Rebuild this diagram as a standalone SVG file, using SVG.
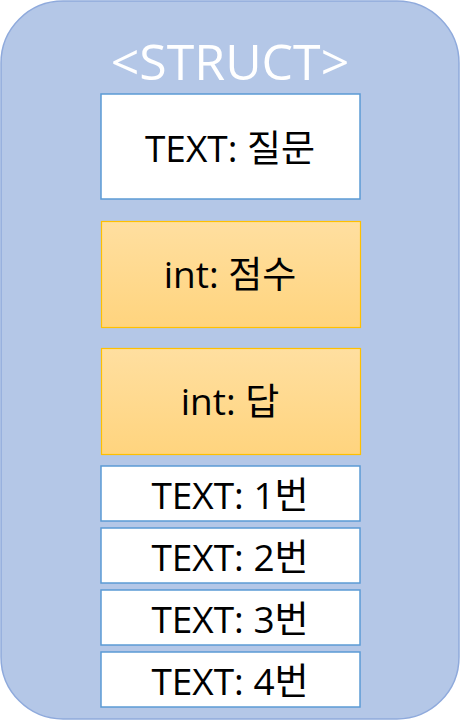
<svg xmlns="http://www.w3.org/2000/svg" width="460" height="725" viewBox="0 0 460 725">
<defs>
<linearGradient id="og" x1="0" y1="0" x2="0" y2="1">
<stop offset="0" stop-color="#FFDFA0"/>
<stop offset="1" stop-color="#FFD47E"/>
</linearGradient>
<style>
.w{fill:#FFFFFF;stroke:#5B9BD5;stroke-width:1.5}
.o{fill:url(#og);stroke:#FFC000;stroke-width:1.2}
.t{font-family:"Open Sans","Noto Sans CJK KR",sans-serif;font-size:37px;fill:#000;text-anchor:middle}
.h{font-family:"Open Sans","Noto Sans CJK KR",sans-serif;font-size:50px;fill:#FFFFFF;text-anchor:middle}
</style>
</defs>
<g id="struct">
<rect x="1" y="1" width="458" height="718" rx="62" ry="62" fill="#B4C7E7" stroke="#8FAADC" stroke-width="1.5"/>
<text class="h" x="230" y="80">&lt;STRUCT&gt;</text>
</g>
<g id="n1"><rect class="w" x="101" y="94" width="259" height="105"/><text class="t" x="230" y="162">TEXT: 질문</text></g>
<g id="n2"><rect class="o" x="101.5" y="221.5" width="259" height="106"/><text class="t" x="230" y="288">int: 점수</text></g>
<g id="n3"><rect class="o" x="101.5" y="348.5" width="259" height="106"/><text class="t" x="230" y="415">int: 답</text></g>
<g id="n4"><rect class="w" x="101" y="466" width="259" height="55"/><text class="t" x="230" y="509">TEXT: 1번</text></g>
<g id="n5"><rect class="w" x="101" y="528" width="259" height="55"/><text class="t" x="230" y="571">TEXT: 2번</text></g>
<g id="n6"><rect class="w" x="101" y="590" width="259" height="55"/><text class="t" x="230" y="633">TEXT: 3번</text></g>
<g id="n7"><rect class="w" x="101" y="652" width="259" height="55"/><text class="t" x="230" y="695">TEXT: 4번</text></g>
<g id="connectors"/>
</svg>
